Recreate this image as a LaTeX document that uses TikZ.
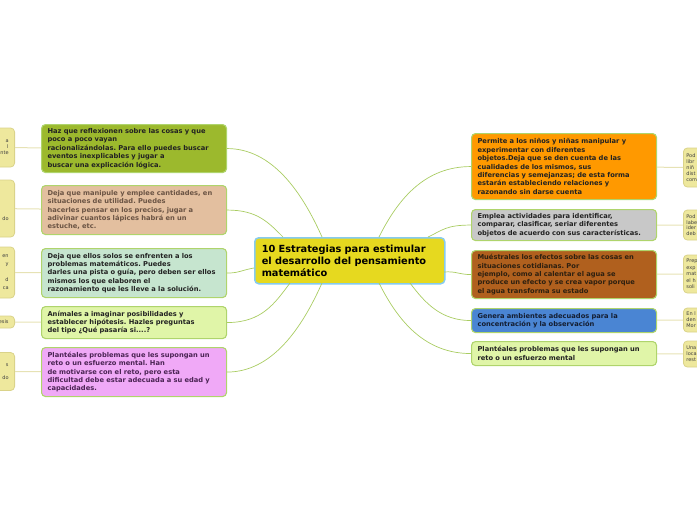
\documentclass[tikz,border=0pt]{standalone}
\usepackage{fontspec}
\setmainfont{DejaVu Sans}
\frenchspacing
\definecolor{hub}{HTML}{E6D91F}
\definecolor{hubrim}{HTML}{86CBEF}
\definecolor{rim}{HTML}{AFD46C}
\definecolor{twig}{HTML}{A9CC62}
\definecolor{leaffill}{HTML}{EEE89D}
\definecolor{leafrim}{HTML}{DAD38A}
\definecolor{leafline}{HTML}{E6E2B4}
\definecolor{inkdark}{HTML}{222222}
\definecolor{olive}{HTML}{9CB92D}
\definecolor{tan}{HTML}{E3BF9F}
\definecolor{tanink}{HTML}{6B5444}
\definecolor{mint}{HTML}{C6E5CF}
\definecolor{lime}{HTML}{E0F5A8}
\definecolor{pink}{HTML}{F0A9F7}
\definecolor{pinkink}{HTML}{4B2454}
\definecolor{orange}{HTML}{FF9900}
\definecolor{grey}{HTML}{C8C8C8}
\definecolor{rust}{HTML}{B0601E}
\definecolor{rustink}{HTML}{2E2010}
\definecolor{sky}{HTML}{4A85D3}
\definecolor{skyink}{HTML}{141E32}
\newcommand{\mtxt}{\fontsize{6.7}{8.4}\selectfont\bfseries}
\newcommand{\ltxt}{\fontsize{5}{6}\selectfont}

\begin{document}
\begin{tikzpicture}[x=1pt,y=-1pt,
  branch/.style={draw=rim,line width=1.1pt,rounded corners=4pt,anchor=north west,
    minimum width=185pt,text width=173pt,inner xsep=6pt,inner ysep=2pt,
    align=left,font=\mtxt,text=inkdark},
  leaf/.style={draw=leafrim,fill=leaffill,line width=0.8pt,rounded corners=4pt,
    text width=28pt,font=\ltxt,text=black!75},
  lleaf/.style={leaf,anchor=east,align=right,inner xsep=6pt},
  rleaf/.style={leaf,anchor=west,align=left,inner xsep=3pt},
  twigline/.style={draw=twig,line width=0.7pt},
  stem/.style={draw=leafline,line width=1pt}]
\useasboundingbox (0,0) rectangle (697,520);
\clip (0,0) rectangle (697,520);

% centre
\node[draw=hubrim,fill=hub,line width=1.5pt,rounded corners=4pt,anchor=north west,
  minimum width=190pt,minimum height=46pt,text width=176pt,inner xsep=7pt,
  align=left,font=\fontsize{9.8}{12}\selectfont\bfseries] (c) at (254,237)
  {10 Estrategias para estimular\\el desarrollo del pensamiento\\matemático};

% left branches
\node[branch,fill=olive,minimum height=48pt] (n1) at (41,124)
  {Haz que reflexionen sobre las cosas y que\\poco a poco vayan\\racionalizándolas. Para ello puedes buscar\\eventos inexplicables y jugar a\\buscar una explicación lógica.};
\node[branch,fill=tan,text=tanink,minimum height=49pt] (n2) at (41,185)
  {Deja que manipule y emplee cantidades, en\\situaciones de utilidad. Puedes\\hacerles pensar en los precios, jugar a\\adivinar cuantos lápices habrá en un\\estuche, etc.};
\node[branch,fill=mint,minimum height=49pt] (n3) at (41,248)
  {Deja que ellos solos se enfrenten a los\\problemas matemáticos. Puedes\\darles una pista o guía, pero deben ser ellos\\mismos los que elaboren el\\razonamiento que les lleve a la solución.};
\node[branch,fill=lime,minimum height=32pt] (n4) at (41,306)
  {Anímales a imaginar posibilidades y\\establecer hipótesis. Hazles preguntas\\del tipo ¿Qué pasaría si....?};
\node[branch,fill=pink,text=pinkink,minimum height=49pt] (n5) at (41,347)
  {Plantéales problemas que les supongan un\\reto o un esfuerzo mental. Han\\de motivarse con el reto, pero esta\\dificultad debe estar adecuada a su edad y\\capacidades.};

% right branches
\node[branch,fill=orange,minimum height=66pt] (r1) at (471,133)
  {Permite a los niños y niñas manipular y\\experimentar con diferentes\\objetos.Deja que se den cuenta de las\\cualidades de los mismos, sus\\diferencias y semejanzas; de esta forma\\estarán estableciendo relaciones y\\razonando sin darse cuenta};
\node[branch,fill=grey,minimum height=31pt] (r2) at (471,209)
  {Emplea actividades para identificar,\\comparar, clasificar, seriar diferentes\\objetos de acuerdo con sus características.};
\node[branch,fill=rust,text=rustink,minimum height=48pt] (r3) at (471,250)
  {Muéstrales los efectos sobre las cosas en\\situaciones cotidianas. Por\\ejemplo, como al calentar el agua se\\produce un efecto y se crea vapor porque\\el agua transforma su estado};
\node[branch,fill=sky,text=skyink,minimum height=24pt] (r4) at (471,308)
  {Genera ambientes adecuados para la\\concentración y la observación};
\node[branch,fill=lime,minimum height=24pt] (r5) at (471,341)
  {Plantéales problemas que les supongan un\\reto o un esfuerzo mental};

% leaves, cut by the page edge
\node[lleaf,minimum height=39pt] (l1) at (15,147.5) {a\\l\\nte};
\node[lleaf,minimum height=57pt] (l2) at (15,208.5) {\mbox{}\\\mbox{}\\\mbox{}\\\mbox{}\\do};
\node[lleaf,minimum height=51pt,font=\fontsize{5}{8}\selectfont] (l3) at (15,272.5) {en\\y\\\mbox{}\\d\\ca};
\node[lleaf,minimum height=12pt,inner ysep=1pt] (l4) at (15,322) {esis};
\node[lleaf,minimum height=38pt,font=\fontsize{5}{6.5}\selectfont] (l5) at (15,371.5) {s\\\mbox{}\\do};
\node[rleaf,minimum height=39pt] (q1) at (683,167.5) {Pod\\libr\\niñ\\dist\\com};
\node[rleaf,minimum height=30pt,font=\fontsize{5}{5.7}\selectfont] (q2) at (683,225) {Pod\\labe\\ider\\deb};
\node[rleaf,minimum height=38pt,font=\fontsize{5}{6.6}\selectfont] (q3) at (683,274) {Prep\\exp\\mat\\el h\\soli};
\node[rleaf,minimum height=24pt] (q4) at (683,320) {En l\\den\\Mor};
\node[rleaf,minimum height=26pt] (q5) at (683,354) {Una\\loca\\rest};

\foreach \a/\b in {n1/l1,n2/l2,n3/l3,n4/l4,n5/l5,r1/q1,r2/q2,r3/q3,r4/q4,r5/q5}
  \draw[stem] (\a) -- (\b);

% ends on the centre box
\coordinate (t1) at (322,237);
\coordinate (t2) at (283,237);
\coordinate (t3) at (254,268);
\coordinate (t4) at (290,283);
\coordinate (t5) at (322,283);
\coordinate (u1) at (379,237);
\coordinate (u2) at (428,237);
\coordinate (u3) at (444,272);
\coordinate (u4) at (410,283);
\coordinate (u5) at (379,283);

\draw[twigline] (n1.east) .. controls +(45,0) and +(-20,-45) .. (t1);
\draw[twigline] (n2.east) .. controls +(30,0) and +(-15,-15) .. (t2);
\draw[twigline] (n3.east) .. controls +(12,0) and +(-12,2) .. (t3);
\draw[twigline] (n4.east) .. controls +(35,0) and +(-15,20) .. (t4);
\draw[twigline] (n5.east) .. controls +(45,0) and +(-20,45) .. (t5);
\draw[twigline] (r1.west) .. controls +(-45,0) and +(20,-40) .. (u1);
\draw[twigline] (r2.west) .. controls +(-25,0) and +(15,-7) .. (u2);
\draw[twigline] (r3.west) .. controls +(-12,0) and +(12,-1) .. (u3);
\draw[twigline] (r4.west) .. controls +(-30,0) and +(15,20) .. (u4);
\draw[twigline] (r5.west) .. controls +(-45,0) and +(20,40) .. (u5);
\end{tikzpicture}
\end{document}
